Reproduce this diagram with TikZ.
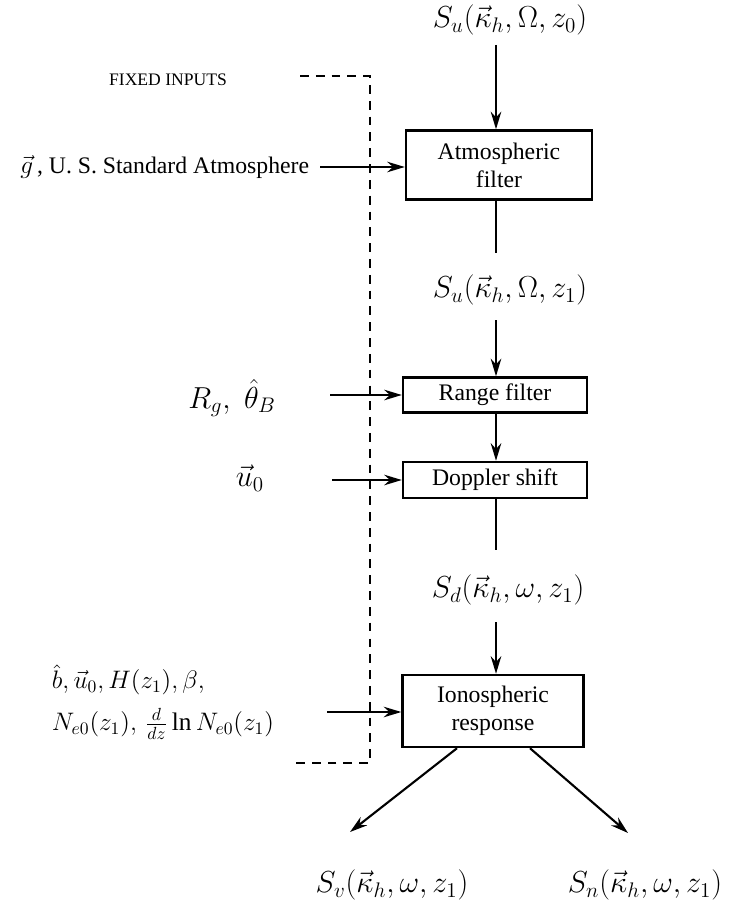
\documentclass[tikz,border=0pt]{standalone}
\usepackage{fontspec}
\setmainfont{Liberation Serif}
\usepackage{amsmath,amssymb}
\usetikzlibrary{arrows.meta}

\begin{document}
\begin{tikzpicture}[x=0.02cm,y=-0.02cm,
        line width=1.2pt,
        box/.style={draw,line width=1.4pt,inner sep=0pt,align=center,font=\fontsize{13.5}{16}\selectfont},
        sig/.style={font=\LARGE},
        feed/.style={-{Stealth[length=10pt,width=6pt]}}]
    \useasboundingbox (0,0) rectangle (736,905);
    % signal chain
    \node[sig] (su0) at (510,20) {$S_u(\vec{\kappa}_h,\Omega,z_0)$};
    \node[box,minimum width=3.72cm,minimum height=1.38cm] (atm) at (499,165) {Atmospheric\\filter};
    \node[sig] (su1) at (510,290) {$S_u(\vec{\kappa}_h,\Omega,z_1)$};
    \node[box,minimum width=3.68cm,minimum height=0.7cm] (rng) at (495,395) {Range filter};
    \node[box,minimum width=3.68cm,minimum height=0.72cm] (dop) at (495,480) {Doppler shift};
    \node[sig] (sd) at (508,590) {$S_d(\vec{\kappa}_h,\omega,z_1)$};
    \node[box,minimum width=3.62cm,minimum height=1.44cm] (ion) at (493,711) {Ionospheric\\response};
    \node[sig] (sv) at (392,885) {$S_v(\vec{\kappa}_h,\omega,z_1)$};
    \node[sig] (sn) at (645,885) {$S_n(\vec{\kappa}_h,\omega,z_1)$};
    \coordinate (a0) at (496,45);
    \coordinate (a1) at (496,253);
    \coordinate (a2) at (496,320);
    \coordinate (a3) at (496,550);
    \coordinate (a4) at (496,622);
    \coordinate (vend) at (350,832);
    \coordinate (nend) at (628,833);
    \draw[feed] (a0) -- (a0 |- atm.north);
    \draw (a1 |- atm.south) -- (a1);
    \draw[feed] (a2) -- (a2 |- rng.north);
    \draw[feed] (a2 |- rng.south) -- (a2 |- dop.north);
    \draw (a3 |- dop.south) -- (a3);
    \draw[feed] (a4) -- (a4 |- ion.north);
    \draw[feed] (ion.south) ++(-36,0) -- (vend);
    \draw[feed] (ion.south) ++(37,0) -- (nend);
    % fixed inputs
    \node[font=\normalsize] (fix) at (168,80) {FIXED INPUTS};
    \draw[dashed,line width=1pt,dash pattern=on 5pt off 4pt] (300,76) -- (370,76) -- (370,763) -- (295,763);
    \node[anchor=east,font=\fontsize{13.5}{16}\selectfont] (gin) at (316,167) {$\vec{g}$\,, U. S. Standard Atmosphere};
    \node[sig] (rin) at (232,398) {$R_g,\;\hat{\theta}_B$};
    \node[sig] (uin) at (250,478) {$\vec{u}_0$};
    \node[font=\Large,anchor=west,align=left] (iin) at (45,702) {$\hat{b},\vec{u}_0,H(z_1),\beta,$\\[6pt]$N_{e0}(z_1),\,\frac{d}{dz}\ln N_{e0}(z_1)$};
    \coordinate (t1) at (320,167);
    \coordinate (t2) at (330,395);
    \coordinate (t3) at (332,480);
    \coordinate (t4) at (327,712);
    \draw[feed] (t1) -- (t1 -| atm.west);
    \draw[feed] (t2) -- (t2 -| rng.west);
    \draw[feed] (t3) -- (t3 -| dop.west);
    \draw[feed] (t4) -- (t4 -| ion.west);
\end{tikzpicture}
\end{document}
